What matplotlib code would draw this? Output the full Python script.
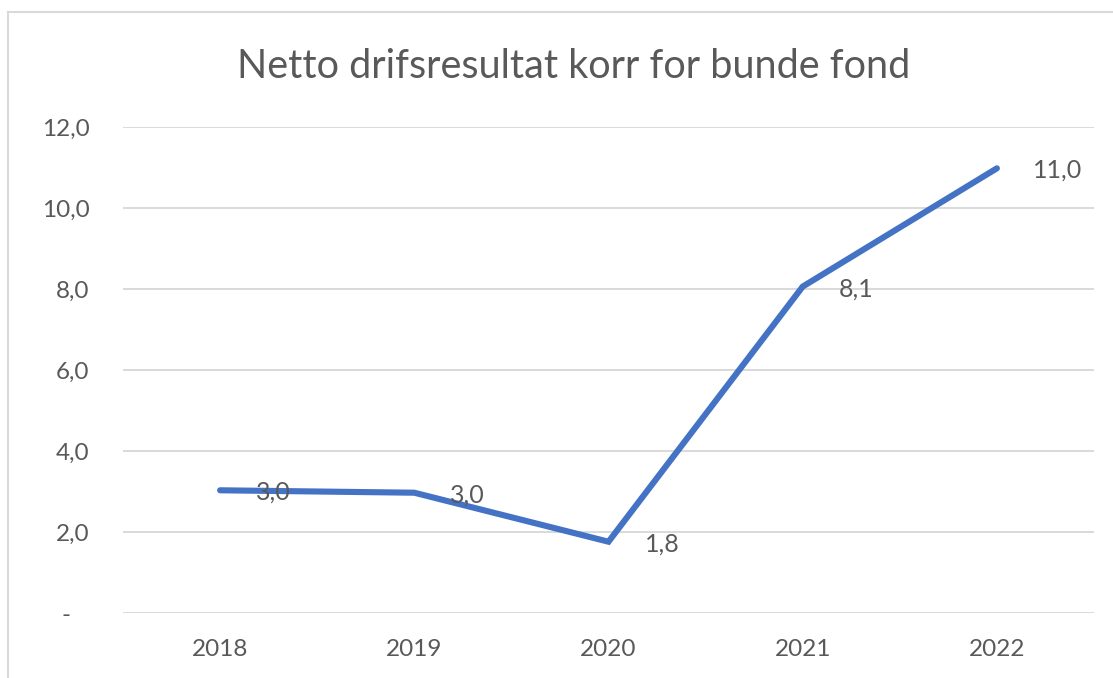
import matplotlib
matplotlib.use("Agg")
import matplotlib.pyplot as plt
from matplotlib.lines import Line2D

# data
years = ["2018", "2019", "2020", "2021", "2022"]
values = [3.03, 2.97, 1.76, 8.06, 10.98]
y_ticks = [0, 2, 4, 6, 8, 10, 12]
title = "Netto drifsresultat korr for bunde fond"

text_color = "#595959"
grid_color = "#D9D9D9"
line_color = "#4472C4"

plt.rcParams["font.family"] = ["Lato", "DejaVu Sans"]

fig = plt.figure(figsize=(11.13, 6.78), dpi=100)
ax = fig.add_axes([123 / 1113, 1 - 613 / 678, (1094 - 123) / 1113, (613 - 127) / 678])

x = range(len(years))
ax.plot(x, values, color=line_color, linewidth=4.4, solid_capstyle="round",
        solid_joinstyle="miter", zorder=3)

# data labels to the right of each point
for xi, v in zip(x, values):
    lbl = f"{v:.1f}".replace(".", ",")
    ax.annotate(lbl, (xi, v), xytext=(26, -1.5), textcoords="offset points",
                ha="left", va="center", fontsize=18, color=text_color, zorder=4)

ax.set_xlim(-0.5, len(years) - 0.5)
ax.set_ylim(0, 12)
ax.set_xticks(list(x))
ax.set_xticklabels(years)
ax.set_yticks(y_ticks)
ax.set_yticklabels(["-   " if t == 0 else f"{t:.1f}".replace(".", ",") for t in y_ticks])

ax.tick_params(axis="both", length=0, labelsize=17.5, labelcolor=text_color)
ax.tick_params(axis="y", pad=24)
ax.tick_params(axis="x", pad=19)
ax.grid(axis="y", color=grid_color, linewidth=1.4)
ax.set_axisbelow(True)
for s in ax.spines.values():
    s.set_visible(False)

fig.text(574 / 1113, 1 - 66 / 678, title, ha="center", va="center",
         fontsize=28.5, color=text_color)

# chart border (left and top edges visible)
fig.add_artist(Line2D([8 / 1113, 8 / 1113], [0, 1 - 12 / 678], color=grid_color,
                      linewidth=1.5, transform=fig.transFigure))
fig.add_artist(Line2D([8 / 1113, 1], [1 - 12 / 678, 1 - 12 / 678], color=grid_color,
                      linewidth=1.5, transform=fig.transFigure))

fig.savefig("out.png", dpi=100)
